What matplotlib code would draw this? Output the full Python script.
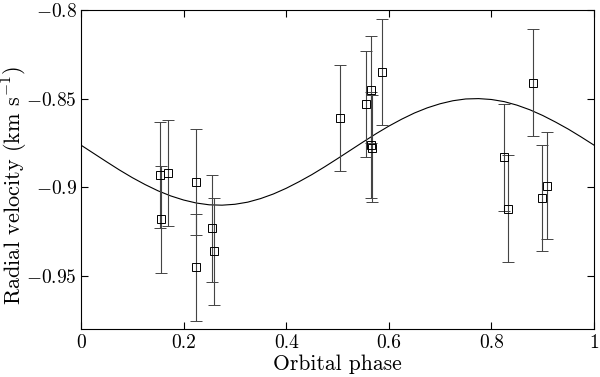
import numpy as np
import matplotlib
matplotlib.use("Agg")
import matplotlib.pyplot as plt

plt.rcParams['font.family'] = 'cmr10'
plt.rcParams['mathtext.fontset'] = 'cm'
plt.rcParams['axes.unicode_minus'] = False

# measured radial velocities
phase = [0.154, 0.156, 0.170, 0.225, 0.224, 0.255, 0.260, 0.505, 0.556, 0.566,
         0.566, 0.568, 0.587, 0.825, 0.832, 0.882, 0.899, 0.908]
rv = [-0.893, -0.918, -0.892, -0.897, -0.945, -0.923, -0.936, -0.861, -0.853, -0.845,
      -0.876, -0.878, -0.835, -0.883, -0.912, -0.841, -0.906, -0.899]
rv_err = [0.03] * 18

# fitted orbit
model_phase = [0.000, 0.025, 0.050, 0.075, 0.100, 0.125, 0.150, 0.175, 0.200, 0.225,
               0.250, 0.275, 0.300, 0.325, 0.350, 0.375, 0.400, 0.425, 0.450, 0.475,
               0.500, 0.525, 0.550, 0.575, 0.600, 0.625, 0.650, 0.675, 0.700, 0.725,
               0.750, 0.775, 0.800, 0.825, 0.850, 0.875, 0.900, 0.925, 0.950, 0.975,
               1.000]
model_rv = [-0.8762, -0.8809, -0.8856, -0.8902, -0.8945, -0.8984, -0.9019, -0.9048,
            -0.9071, -0.9088, -0.9098, -0.9100, -0.9095, -0.9083, -0.9063, -0.9037,
            -0.9005, -0.8968, -0.8928, -0.8884, -0.8838, -0.8791, -0.8744, -0.8698,
            -0.8655, -0.8616, -0.8581, -0.8552, -0.8529, -0.8512, -0.8502, -0.8500,
            -0.8505, -0.8517, -0.8537, -0.8563, -0.8595, -0.8632, -0.8672, -0.8716,
            -0.8762]

xticks = [0, 0.2, 0.4, 0.6, 0.8, 1]
xticklabels = ['0', '0.2', '0.4', '0.6', '0.8', '1']
yticks = [-0.95, -0.9, -0.85, -0.8]
yticklabels = ['$-0.95$', '$-0.9$', '$-0.85$', '$-0.8$']

fig = plt.figure(figsize=(6.0, 3.77), dpi=100)
ax = fig.add_axes([0.135, 0.126, 0.855, 0.848])

ax.plot(model_phase, model_rv, color='black', lw=0.8)
ax.errorbar(phase, rv, yerr=rv_err, fmt='s', ms=6, mfc='none', mec='black', mew=0.7,
            ecolor='#444444', elinewidth=0.8, capsize=4, capthick=0.8)

ax.set_xlim(0, 1)
ax.set_ylim(-0.98, -0.8)
ax.set_xticks(xticks)
ax.set_xticklabels(xticklabels)
ax.set_yticks(yticks)
ax.set_yticklabels(yticklabels)
ax.tick_params(direction='in', top=True, right=True, length=5, labelsize=14, pad=3)

ax.set_xlabel('Orbital phase', fontsize=15.5, labelpad=2)
ax.set_ylabel(r'Radial velocity (km s$^{-1}$)', fontsize=16)
ax.yaxis.set_label_coords(-0.1, 0.45)

fig.savefig('out.png', dpi=100)
